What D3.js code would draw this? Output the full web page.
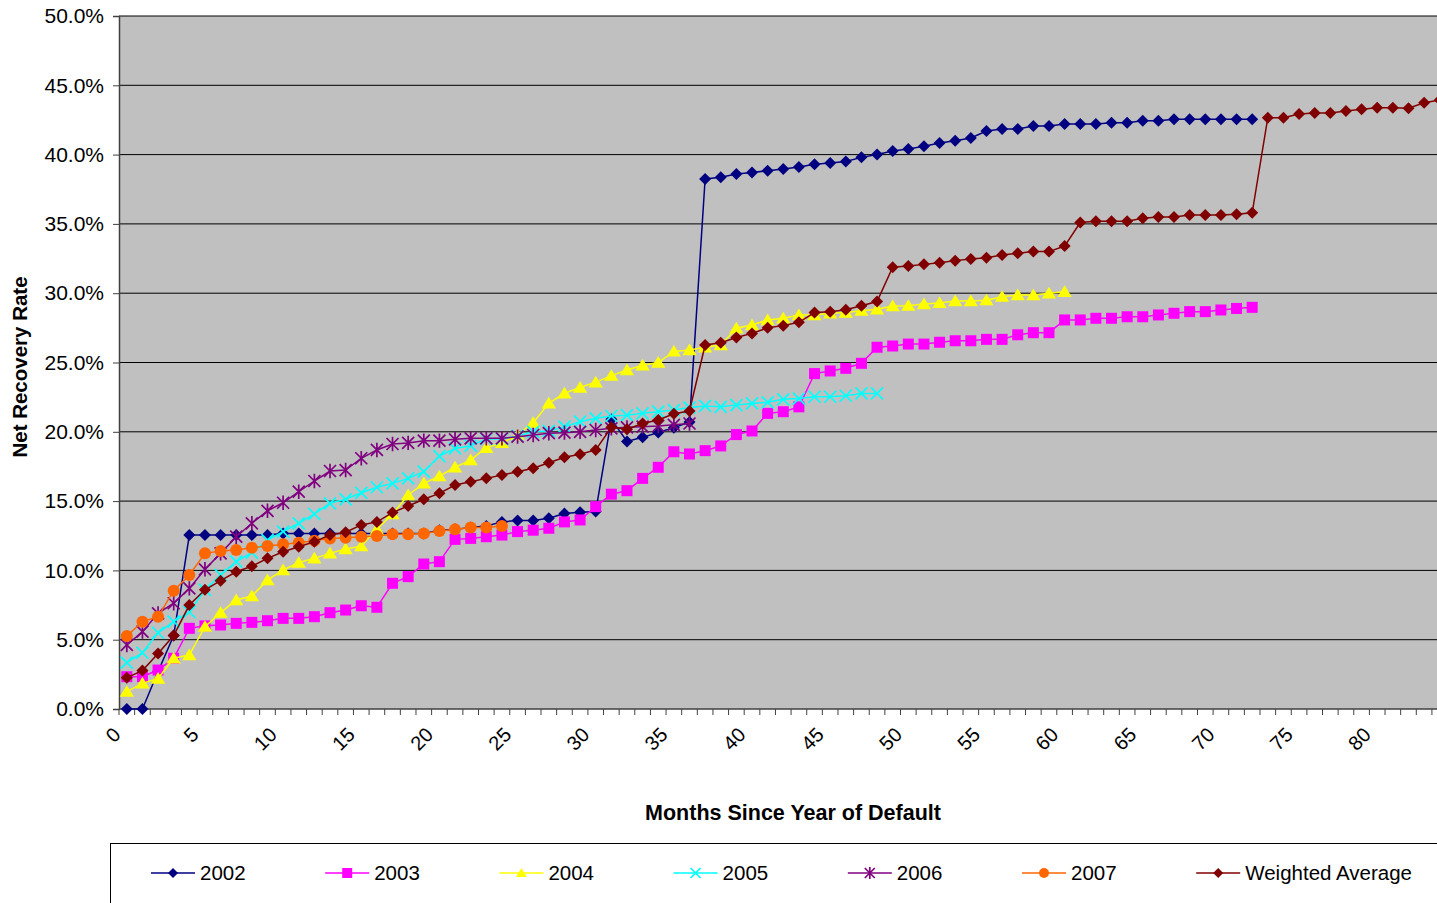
<!DOCTYPE html>
<html>
<head>
<meta charset="utf-8">
<title>Net Recovery Rate</title>
<script src="https://d3js.org/d3.v7.min.js"></script>
<style>
  body { margin: 0; background: #fff; }
  text { font-family: "Liberation Sans", Arial, sans-serif; }
</style>
</head>
<body>
<svg width="1437" height="903"></svg>
<script>
// months since year of default (category axis)
var months = d3.range(0, 85);
var xTickLabels = [0, 5, 10, 15, 20, 25, 30, 35, 40, 45, 50, 55, 60, 65, 70, 75, 80];
var yTicks = [0, 5, 10, 15, 20, 25, 30, 35, 40, 45, 50];

// net recovery rate, % (month 0 first)
var s2002 = [0, 0, 2.7, 5.3, 12.55, 12.55, 12.55, 12.55, 12.55, 12.55,
  12.67, 12.67, 12.67, 12.67, 12.67, 12.67, 12.67, 12.67, 12.67, 12.67,
  12.9, 12.96, 13.1, 13.2, 13.5, 13.6, 13.6, 13.76, 14.1, 14.2,
  14.25, 20.9, 19.3, 19.6, 19.95, 20.3, 20.7, 38.24, 38.36, 38.6,
  38.7, 38.84, 38.96, 39.1, 39.3, 39.4, 39.5, 39.8, 40.0, 40.26,
  40.4, 40.6, 40.84, 41.0, 41.2, 41.7, 41.85, 41.85, 42.06, 42.06,
  42.2, 42.2, 42.2, 42.3, 42.3, 42.45, 42.45, 42.55, 42.55, 42.55,
  42.55, 42.55, 42.55];
var s2003 = [2.33, 2.33, 2.81, 3.66, 5.82, 6.0, 6.06, 6.18, 6.25, 6.37,
  6.54, 6.54, 6.66, 6.95, 7.14, 7.45, 7.34, 9.07, 9.55, 10.46,
  10.63, 12.24, 12.31, 12.43, 12.55, 12.8, 12.9, 13.04, 13.5, 13.64,
  14.6, 15.5, 15.75, 16.64, 17.44, 18.56, 18.4, 18.64, 18.98, 19.8,
  20.06, 21.33, 21.45, 21.8, 24.2, 24.39, 24.58, 24.94, 26.1, 26.19,
  26.33, 26.33, 26.46, 26.57, 26.57, 26.67, 26.67, 27.0, 27.15, 27.15,
  28.07, 28.07, 28.19, 28.19, 28.3, 28.3, 28.43, 28.55, 28.67, 28.67,
  28.79, 28.9, 28.98];
var s2004 = [1.25, 1.85, 2.2, 3.66, 3.9, 5.94, 6.95, 7.86, 8.15, 9.3,
  10.03, 10.56, 10.87, 11.23, 11.54, 11.75, 12.97, 14.07, 15.44, 16.28,
  16.8, 17.44, 17.96, 18.85, 19.2, 19.77, 20.66, 22.06, 22.78, 23.2,
  23.57, 24.05, 24.46, 24.8, 25.0, 25.8, 25.9, 26.1, 26.26, 27.47,
  27.7, 28.07, 28.19, 28.43, 28.43, 28.55, 28.6, 28.74, 28.84, 29.08,
  29.1, 29.22, 29.3, 29.44, 29.44, 29.5, 29.75, 29.87, 29.87, 30.0,
  30.1];
var s2005 = [3.34, 4.06, 5.5, 6.3, 7.0, 8.6, 9.67, 10.63, 11.28, 12.19,
  12.8, 13.4, 14.07, 14.84, 15.13, 15.6, 16.0, 16.28, 16.64, 17.12,
  18.25, 18.8, 19.0, 19.48, 19.48, 19.7, 20.0, 20.06, 20.37, 20.73,
  20.97, 21.14, 21.2, 21.33, 21.45, 21.57, 21.75, 21.87, 21.8, 21.93,
  22.05, 22.13, 22.34, 22.4, 22.53, 22.53, 22.6, 22.77, 22.77];
var s2006 = [4.62, 5.58, 6.9, 7.63, 8.7, 10.08, 11.23, 12.43, 13.4, 14.3,
  14.88, 15.68, 16.45, 17.17, 17.24, 18.09, 18.69, 19.12, 19.2, 19.36,
  19.36, 19.46, 19.53, 19.53, 19.53, 19.65, 19.77, 19.9, 19.94, 20.0,
  20.13, 20.25, 20.32, 20.37, 20.42, 20.5, 20.6];
var s2007 = [5.27, 6.3, 6.66, 8.54, 9.67, 11.23, 11.4, 11.47, 11.64, 11.76,
  11.88, 12.0, 12.14, 12.31, 12.36, 12.43, 12.48, 12.6, 12.6, 12.67,
  12.84, 12.96, 13.1, 13.1, 13.2];
var sWeighted = [2.26, 2.77, 4.0, 5.3, 7.5, 8.6, 9.26, 9.9, 10.3, 10.87,
  11.35, 11.7, 12.07, 12.55, 12.75, 13.28, 13.5, 14.17, 14.65, 15.13,
  15.56, 16.16, 16.4, 16.64, 16.88, 17.12, 17.37, 17.77, 18.16, 18.38,
  18.69, 20.32, 20.18, 20.6, 20.85, 21.3, 21.5, 26.26, 26.43, 26.8,
  27.1, 27.5, 27.66, 27.9, 28.6, 28.67, 28.8, 29.1, 29.4, 31.87,
  31.96, 32.08, 32.2, 32.35, 32.47, 32.56, 32.75, 32.88, 33.0, 33.0,
  33.4, 35.1, 35.2, 35.2, 35.2, 35.4, 35.5, 35.5, 35.64, 35.64,
  35.64, 35.7, 35.8, 42.66, 42.66, 42.93, 43.0, 43.0, 43.15, 43.27,
  43.38, 43.38, 43.34, 43.74, 43.94];

var seriesNames = ["2002", "2003", "2004", "2005", "2006", "2007", "Weighted Average"];
var seriesData = [s2002, s2003, s2004, s2005, s2006, s2007, sWeighted];
var colors = ["#000080", "#ff00ff", "#ffff00", "#00ffff", "#800080", "#ff6600", "#800000"];
var shapes = ["diamond", "square", "triangle", "cross", "star", "circle", "diamond"];

var svg = d3.select("svg");
var plotLeft = 119, plotTop = 16, plotBottom = 709, step = 15.63;

var x = d3.scaleLinear().domain([-0.5, months.length - 0.5])
  .range([plotLeft, plotLeft + step * months.length]);
var y = d3.scaleLinear().domain([0, 50]).range([plotBottom, plotTop]);
var plotRight = x.range()[1];

svg.append("clipPath").attr("id", "plotclip")
  .append("rect").attr("x", plotLeft).attr("y", plotTop - 8)
  .attr("width", plotRight - plotLeft).attr("height", plotBottom - plotTop + 16);

// plot background
svg.append("rect")
  .attr("x", plotLeft).attr("y", plotTop)
  .attr("width", plotRight - plotLeft).attr("height", plotBottom - plotTop)
  .attr("fill", "#c0c0c0");

// gridlines
svg.append("g")
  .selectAll("line")
  .data(yTicks.slice(1))
  .enter().append("line")
  .attr("x1", plotLeft).attr("x2", plotRight)
  .attr("y1", function(d) { return y(d); })
  .attr("y2", function(d) { return y(d); })
  .attr("stroke", "#000").attr("stroke-width", 1);

// y axis
var yAxis = d3.axisLeft(y).tickValues(yTicks).tickSize(6).tickPadding(9)
  .tickFormat(function(d) { return d.toFixed(1) + "%"; });
var gy = svg.append("g").attr("transform", "translate(" + plotLeft + ",0)").call(yAxis);
gy.select(".domain").attr("stroke", "#404040").attr("stroke-width", 1.5);
gy.selectAll(".tick line").attr("stroke", "#404040");
gy.selectAll("text").attr("font-size", "21px").attr("fill", "#000")
  .style("font-family", "'Liberation Sans', Arial, sans-serif");

// x axis: tick marks between categories
var gx = svg.append("g");
gx.append("line")
  .attr("x1", plotLeft).attr("x2", plotRight)
  .attr("y1", plotBottom).attr("y2", plotBottom)
  .attr("stroke", "#404040").attr("stroke-width", 1.5);
gx.selectAll("line.tk")
  .data(d3.range(0, months.length + 1))
  .enter().append("line").attr("class", "tk")
  .attr("x1", function(d) { return x(d - 0.5); })
  .attr("x2", function(d) { return x(d - 0.5); })
  .attr("y1", plotBottom).attr("y2", plotBottom + 6)
  .attr("stroke", "#404040");
gx.selectAll("text")
  .data(xTickLabels)
  .enter().append("text")
  .attr("transform", function(d) {
    return "translate(" + (x(d) - 10) + "," + 731 + ") rotate(-45)";
  })
  .attr("text-anchor", "end")
  .attr("dy", "0.35em")
  .attr("font-size", "20px")
  .text(function(d) { return d; });

// axis titles
svg.append("text")
  .attr("x", 793).attr("y", 820)
  .attr("text-anchor", "middle")
  .attr("font-size", "21.5px").attr("font-weight", "bold")
  .text("Months Since Year of Default");
svg.append("text")
  .attr("transform", "translate(27,367) rotate(-90)")
  .attr("text-anchor", "middle")
  .attr("font-size", "20.5px").attr("font-weight", "bold")
  .text("Net Recovery Rate");

function drawMarker(sel, shape, color, r) {
  if (shape == "circle") {
    sel.append("circle").attr("r", r).attr("fill", color);
  } else if (shape == "square") {
    sel.append("rect").attr("x", -r).attr("y", -r)
      .attr("width", 2 * r).attr("height", 2 * r).attr("fill", color);
  } else if (shape == "diamond") {
    sel.append("path").attr("d", "M0," + (-r) + "L" + r + ",0L0," + r + "L" + (-r) + ",0Z")
      .attr("fill", color);
  } else if (shape == "triangle") {
    sel.append("path").attr("d", "M0," + (-r) + "L" + (r * 1.1) + "," + (r * 0.8) + "L" + (-r * 1.1) + "," + (r * 0.8) + "Z")
      .attr("fill", color);
  } else if (shape == "cross") {
    sel.append("path").attr("d", "M" + (-r) + "," + (-r) + "L" + r + "," + r + "M" + (-r) + "," + r + "L" + r + "," + (-r))
      .attr("stroke", color).attr("stroke-width", 1.7).attr("fill", "none");
  } else if (shape == "star") {
    sel.append("path").attr("d", "M" + (-r) + "," + (-r) + "L" + r + "," + r + "M" + (-r) + "," + r + "L" + r + "," + (-r) + "M0," + (-r * 1.2) + "L0," + (r * 1.2))
      .attr("stroke", color).attr("stroke-width", 1.7).attr("fill", "none");
  }
}

var line = d3.line()
  .x(function(d, i) { return x(months[i]); })
  .y(function(d) { return y(d); });

var plot = svg.append("g").attr("clip-path", "url(#plotclip)");
var markerSize = [6, 5.5, 6.5, 6, 6, 6, 6];

seriesData.forEach(function(data, s) {
  var g = plot.append("g");
  g.append("path")
    .attr("d", line(data))
    .attr("fill", "none")
    .attr("stroke", colors[s])
    .attr("stroke-width", 1.5);
  g.selectAll("g.pt")
    .data(data)
    .enter().append("g").attr("class", "pt")
    .attr("transform", function(d, i) { return "translate(" + x(months[i]) + "," + y(d) + ")"; })
    .each(function() { drawMarker(d3.select(this), shapes[s], colors[s], markerSize[s]); });
});

// legend
var legend = svg.append("g");
legend.append("rect")
  .attr("x", 110.5).attr("y", 843.5)
  .attr("width", 1400).attr("height", 100)
  .attr("fill", "#fff").attr("stroke", "#000");

var item = legend.selectAll("g.item")
  .data(seriesNames)
  .enter().append("g").attr("class", "item")
  .attr("transform", function(d, i) { return "translate(" + (151 + i * 174.2) + ",873)"; });
item.append("line")
  .attr("x1", 0).attr("x2", 44)
  .attr("stroke", function(d, i) { return colors[i]; })
  .attr("stroke-width", 1.5);
item.each(function(d, i) {
  var m = d3.select(this).append("g").attr("transform", "translate(22,0)");
  drawMarker(m, shapes[i], colors[i], 5);
});
item.append("text")
  .attr("x", 49).attr("dy", "0.35em")
  .attr("font-size", "20.5px")
  .text(function(d) { return d; });
</script>
</body>
</html>
